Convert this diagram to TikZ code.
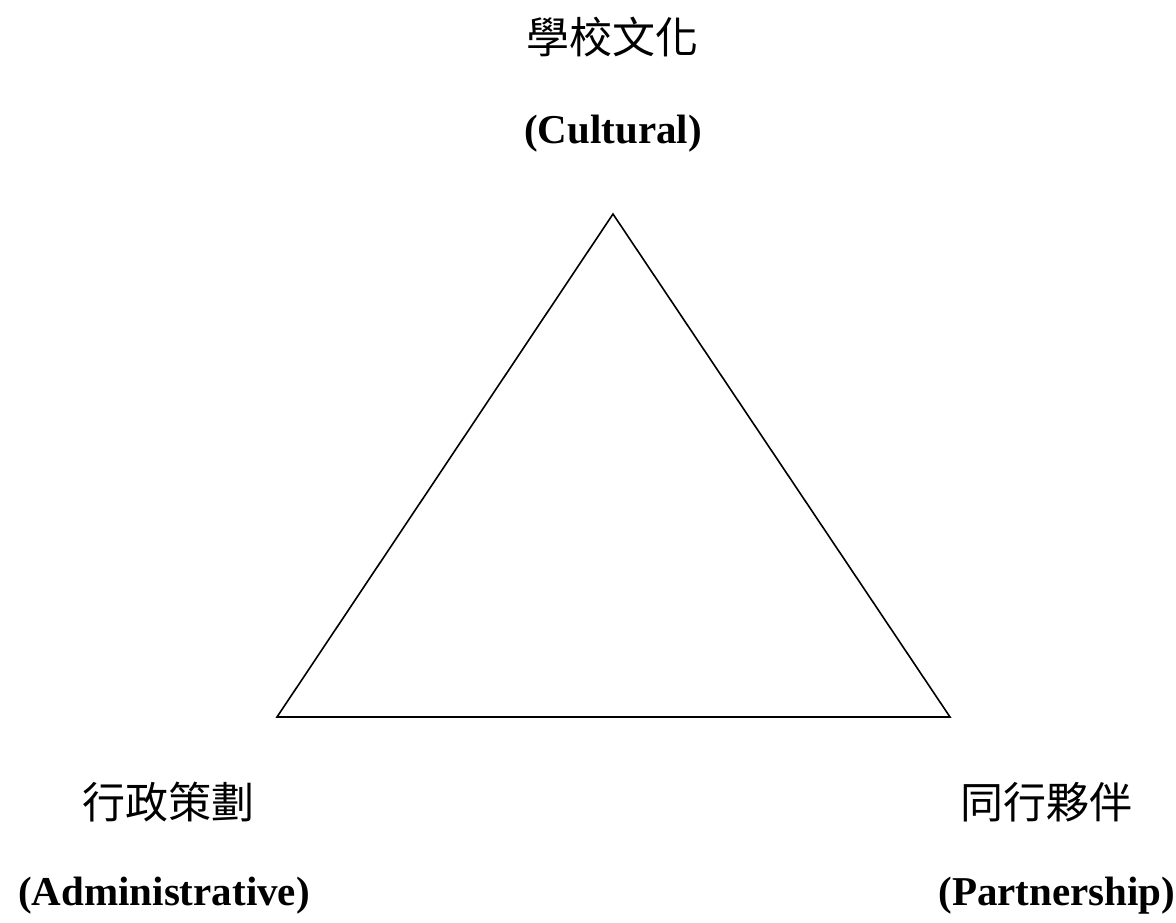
\documentclass[tikz,border=0pt]{standalone}
\usepackage{fontspec}
\setmainfont{Liberation Serif}
\newfontfamily\cjk{Noto Sans CJK TC}
\begin{document}
\begin{tikzpicture}[x=1pt,y=-1pt,
  cjklabel/.style={inner sep=0pt,font=\cjk\fontsize{43}{46}\selectfont},
  enlabel/.style={inner sep=0pt,font=\bfseries\fontsize{41}{46}\selectfont},
  edge/.style={line width=1.6pt,line join=miter}]
\useasboundingbox (0,0) rectangle (1176,923);
\coordinate (top) at (613,214);
\coordinate (bl) at (277,717);
\coordinate (br) at (950,717);
\draw[edge] (top) -- (bl) -- (br) -- cycle;
\node[cjklabel] (c1) at (612,37) {學校文化};
\node[enlabel] (e1) at (613,134) {(Cultural)};
\node[cjklabel] (c2) at (168,802) {行政策劃};
\node[enlabel] (e2) at (164,896) {(Administrative)};
\node[cjklabel] (c3) at (1046,802) {同行夥伴};
\node[enlabel] (e3) at (1057,896) {(Partnership)};
\end{tikzpicture}
\end{document}
